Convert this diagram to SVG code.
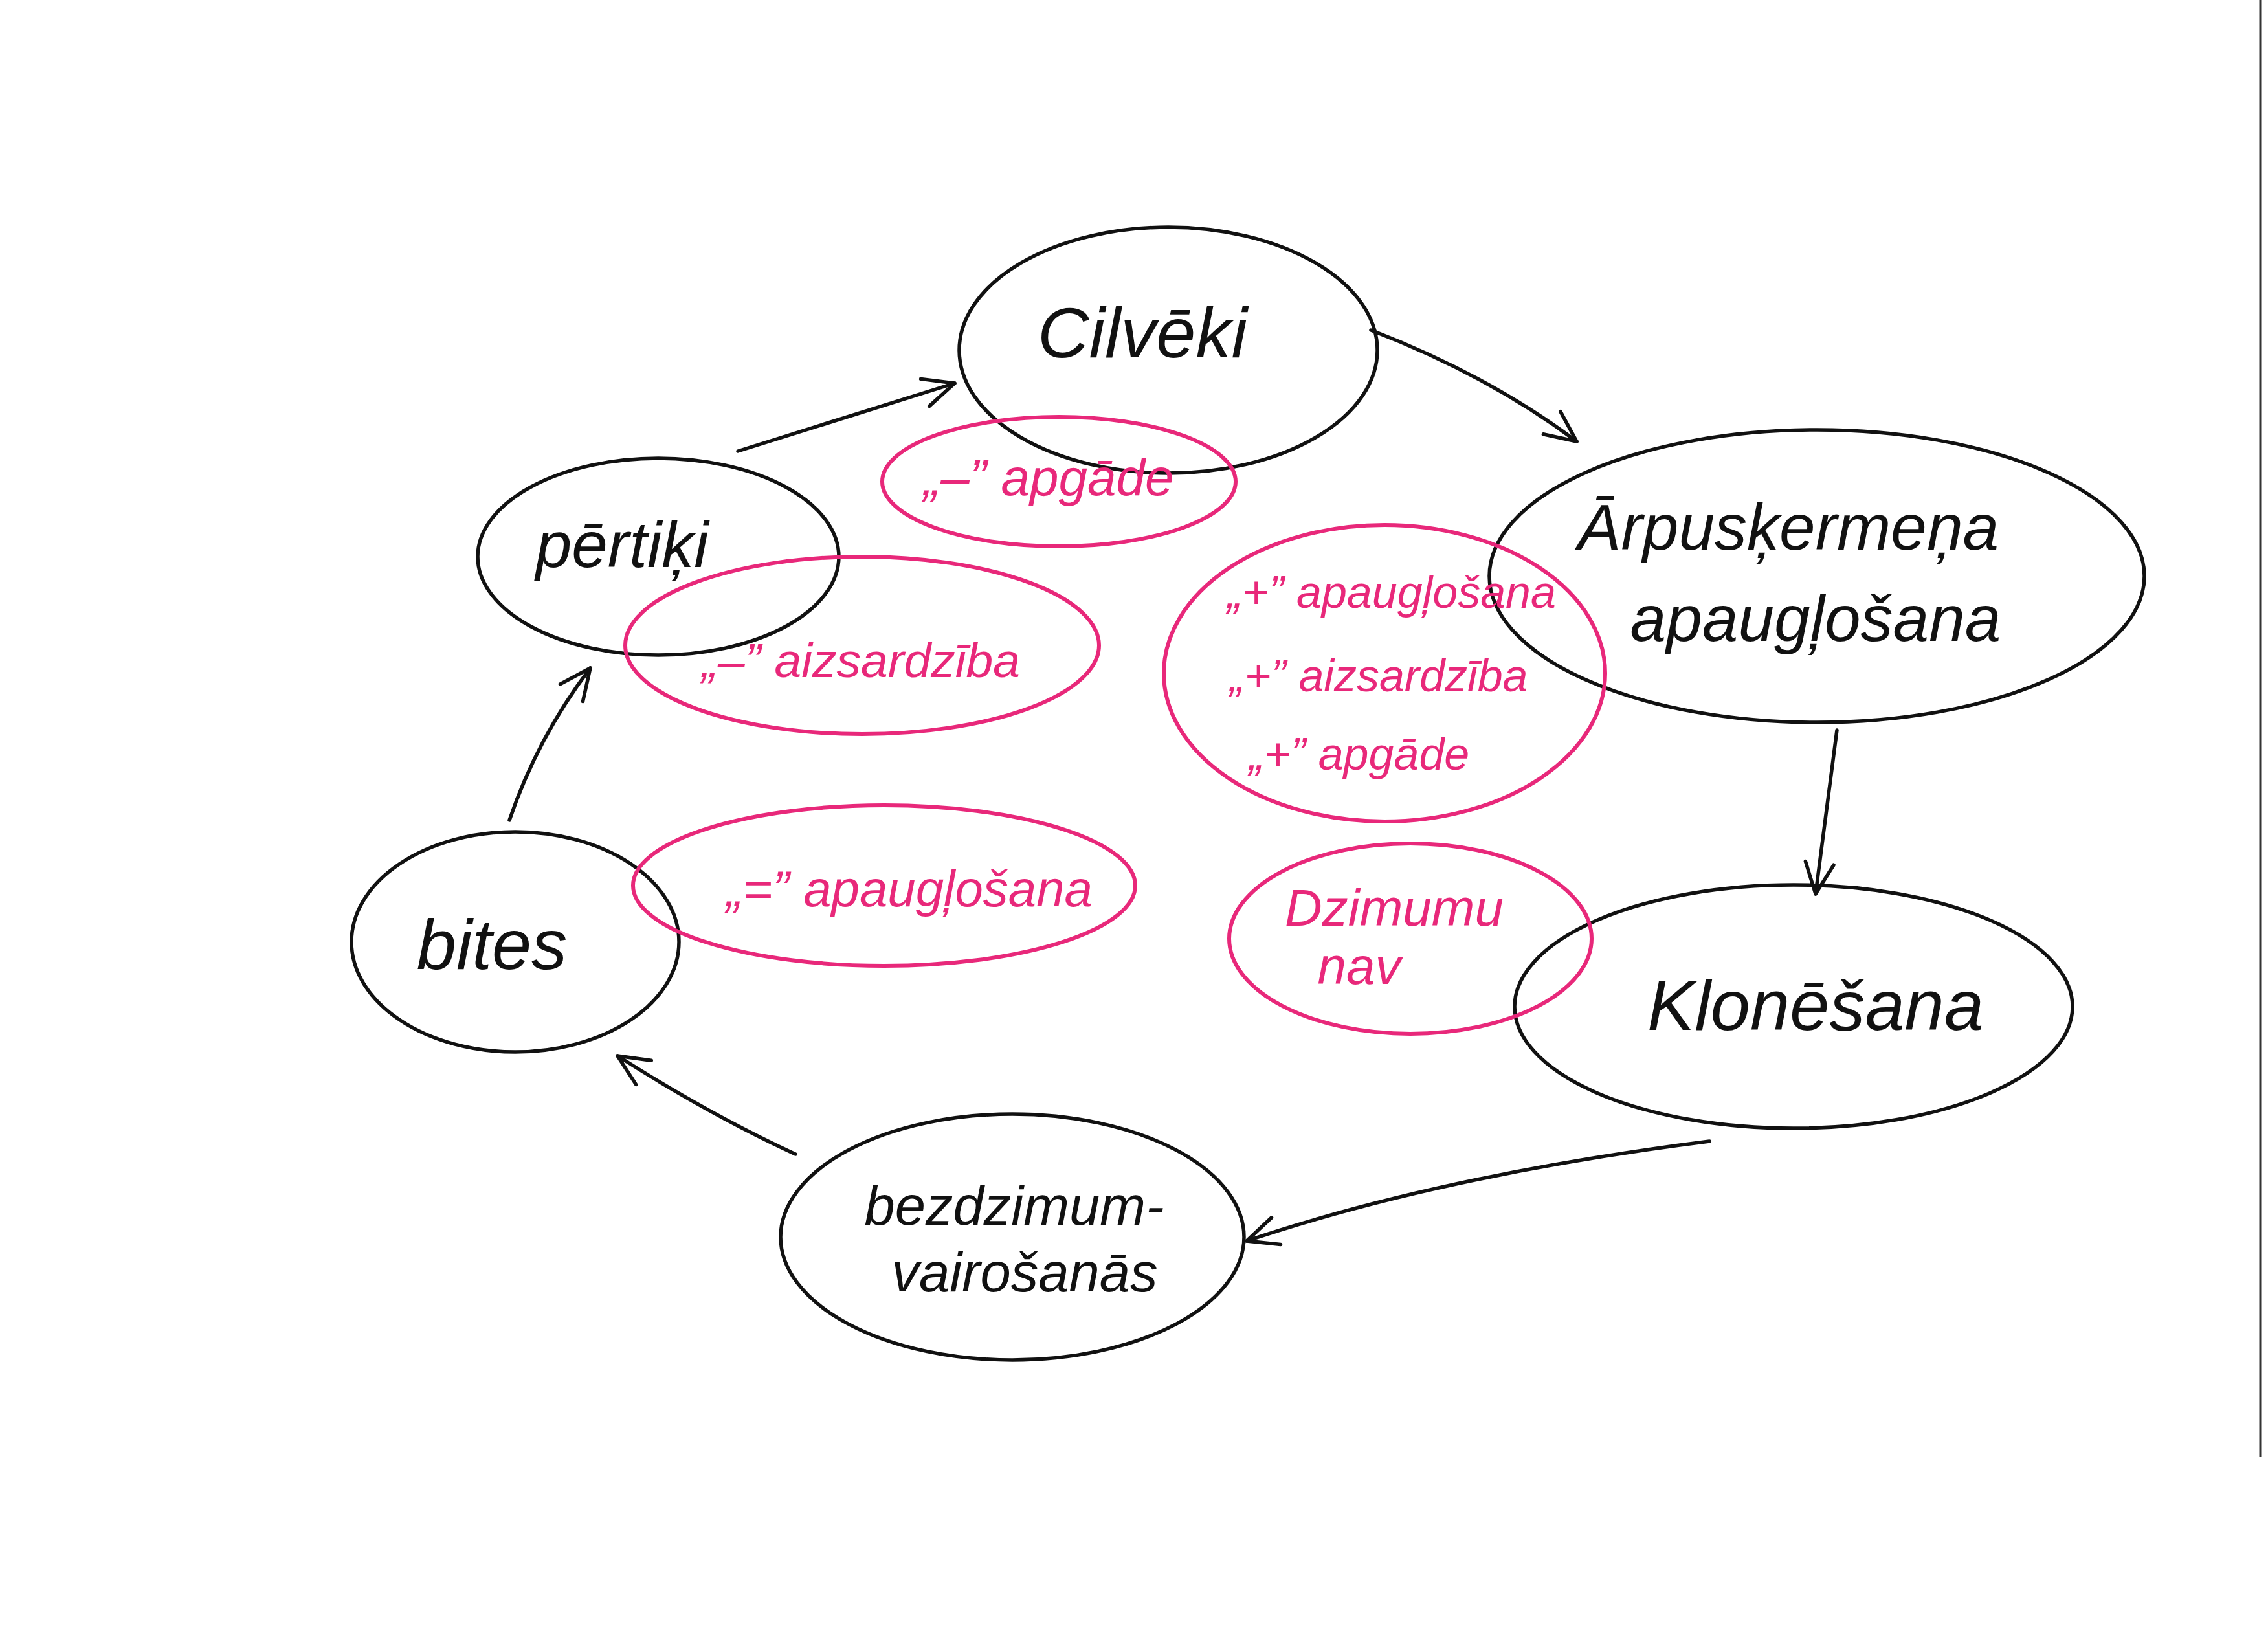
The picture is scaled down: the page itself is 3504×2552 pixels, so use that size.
<svg xmlns="http://www.w3.org/2000/svg" width="3504" height="2552" viewBox="0 0 3504 2552">
<style>
.node{fill:none;stroke:#111;stroke-width:5.5}
.note{fill:none;stroke:#e8287a;stroke-width:6}
.t{font-family:"Liberation Sans","DejaVu Sans",sans-serif;fill:#111;text-anchor:middle;font-style:italic}
.p{font-family:"Liberation Sans","DejaVu Sans",sans-serif;fill:#e8287a;text-anchor:middle;font-style:italic}
.edge{fill:none;stroke:#111;stroke-width:5.5;stroke-linecap:round}
</style>
<defs>
<marker id="arr" markerUnits="userSpaceOnUse" markerWidth="70" markerHeight="70" refX="52" refY="26" orient="auto">
<path d="M4,4 L52,26 L4,48" fill="none" stroke="#111" stroke-width="5.5" stroke-linecap="round" stroke-linejoin="round"/>
</marker>
</defs>
<rect width="3504" height="2552" fill="#fff"/>
<line x1="3492" y1="0" x2="3492" y2="2250" stroke="#333" stroke-width="3"/>

<g id="connectors">
<path class="edge" d="M1140,697 L1475,592" marker-end="url(#arr)"/>
<path class="edge" d="M2118,510 Q2300,580 2436,682" marker-end="url(#arr)"/>
<path class="edge" d="M2838,1128 L2805,1381" marker-end="url(#arr)"/>
<path class="edge" d="M2641,1763 Q2230,1815 1926,1917" marker-end="url(#arr)"/>
<path class="edge" d="M1229,1783 Q1095,1721 954,1631" marker-end="url(#arr)"/>
<path class="edge" d="M787,1267 Q830,1140 912,1032" marker-end="url(#arr)"/>
</g>

<g id="node-cilveki">
<ellipse class="node" cx="1805" cy="541" rx="323" ry="190"/>
<text class="t" x="1765" y="552" font-size="110">Cilvēki</text>
</g>
<g id="node-arpusk">
<ellipse class="node" cx="2807" cy="890" rx="506" ry="226"/>
<text class="t" x="2763" y="849" font-size="100">Ārpusķermeņa</text>
<text class="t" x="2805" y="990" font-size="100">apaugļošana</text>
</g>
<g id="node-klonesana">
<ellipse class="node" cx="2771" cy="1555" rx="431" ry="188"/>
<text class="t" x="2805" y="1591" font-size="110">Klonēšana</text>
</g>
<g id="node-bezdzimum">
<ellipse class="node" cx="1564" cy="1911" rx="358" ry="190"/>
<text class="t" x="1567" y="1892" font-size="85">bezdzimum-</text>
<text class="t" x="1583" y="1995" font-size="85">vairošanās</text>
</g>
<g id="node-bites">
<ellipse class="node" cx="796" cy="1455" rx="253" ry="170"/>
<text class="t" x="760" y="1497" font-size="110">bites</text>
</g>
<g id="node-pertiki">
<ellipse class="node" cx="1017" cy="860" rx="279" ry="152"/>
<text class="t" x="961" y="876" font-size="100">pērtiķi</text>
</g>

<g id="note-apgade">
<ellipse class="note" cx="1636" cy="744" rx="273" ry="100"/>
<text class="p" x="1620" y="765" font-size="80">„–” apgāde</text>
</g>
<g id="note-aizsardziba">
<ellipse class="note" cx="1332" cy="997" rx="366" ry="137"/>
<text class="p" x="1330" y="1046" font-size="75">„–” aizsardzība</text>
</g>
<g id="note-plus">
<ellipse class="note" cx="2139" cy="1040" rx="341" ry="229"/>
<text class="p" x="2150" y="939" font-size="70">„+” apaugļošana</text>
<text class="p" x="2130" y="1068" font-size="70">„+” aizsardzība</text>
<text class="p" x="2100" y="1189" font-size="70">„+” apgāde</text>
</g>
<g id="note-equal">
<ellipse class="note" cx="1366" cy="1368" rx="388" ry="124"/>
<text class="p" x="1405" y="1400" font-size="78">„=” apaugļošana</text>
</g>
<g id="note-dzimumu">
<ellipse class="note" cx="2179" cy="1450" rx="280" ry="147"/>
<text class="p" x="2154" y="1430" font-size="80">Dzimumu</text>
<text class="p" x="2100" y="1520" font-size="80">nav</text>
</g>
</svg>
